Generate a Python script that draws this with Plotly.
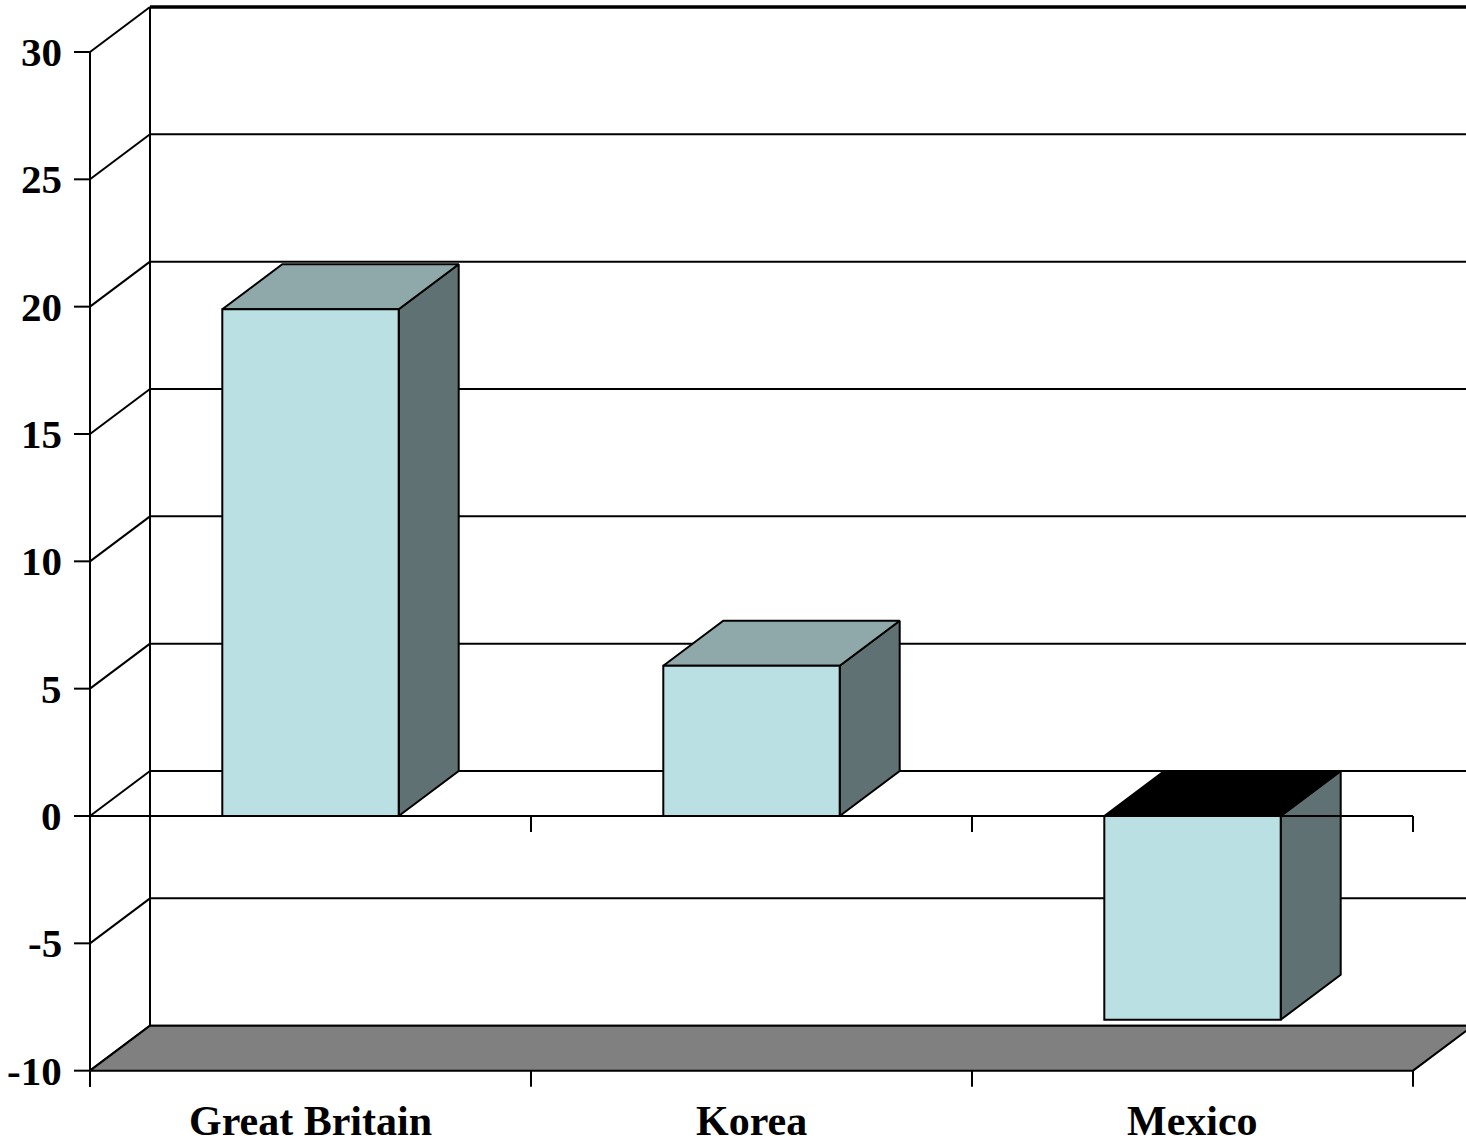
import plotly.graph_objects as go

# Data
categories = ["Great Britain", "Korea", "Mexico"]
values = [19.9, 5.9, -8.0]
tick_values = [-10, -5, 0, 5, 10, 15, 20, 25, 30]
tick_labels = ["-10", "-5", "0", "5", "10", "15", "20", "25", "30"]

# Appearance
FRONT = "#BAE0E3"
TOP = "#8FA9AB"
SIDE = "#5F7172"
NEG_TOP = "#000000"
FLOOR = "#808080"
FONT = "Liberation Serif"

W, H = 1466, 1142
X0_PX, CAT_PX = 90.0, 441.0        # left axis position, width of one category
Y0_PX, UNIT_PX = 816.0, 25.467     # zero-line position, pixels per unit
DEPTH_X = 60.0 / CAT_PX            # 3-D depth offset in axis units
DEPTH_Y = 45.0 / UNIT_PX
TICK_X = 16.0 / CAT_PX
TICK_Y = 16.0 / UNIT_PX
BAR_L, BAR_R = 0.3, 0.7            # bar span within its category

y_min, y_max = min(tick_values), max(tick_values)
n = len(categories)

x_range = [-X0_PX / CAT_PX, (W - X0_PX) / CAT_PX]
y_range = [-(H - Y0_PX) / UNIT_PX, Y0_PX / UNIT_PX]

fig = go.Figure()


def lines(segments, width=2, color="black"):
    xs, ys = [], []
    for (xa, ya), (xb, yb) in segments:
        xs += [xa, xb, None]
        ys += [ya, yb, None]
    fig.add_trace(go.Scatter(x=xs, y=ys, mode="lines",
                             line=dict(color=color, width=width),
                             hoverinfo="skip", showlegend=False))


def poly(pts, fill, width=2):
    xs = [p[0] for p in pts] + [pts[0][0]]
    ys = [p[1] for p in pts] + [pts[0][1]]
    fig.add_trace(go.Scatter(x=xs, y=ys, mode="lines", fill="toself",
                             fillcolor=fill,
                             line=dict(color="black", width=width),
                             hoverinfo="skip", showlegend=False))


far_right = x_range[1] + 1

# Back wall gridlines
lines([((DEPTH_X, v + DEPTH_Y), (far_right, v + DEPTH_Y))
       for v in tick_values if v != y_max])
lines([((DEPTH_X, y_max + DEPTH_Y), (far_right, y_max + DEPTH_Y))], width=3.5)

# Side wall: back vertical edge and diagonal gridlines
lines([((DEPTH_X, y_min + DEPTH_Y), (DEPTH_X, y_max + DEPTH_Y))])
lines([((0, v), (DEPTH_X, v + DEPTH_Y)) for v in tick_values])

# Floor
poly([(0, y_min), (n, y_min), (n + DEPTH_X, y_min + DEPTH_Y),
      (DEPTH_X, y_min + DEPTH_Y)], FLOOR)

# Bars
for i, v in enumerate(values):
    x0, x1 = i + BAR_L, i + BAR_R
    # side face
    poly([(x1, 0), (x1 + DEPTH_X, DEPTH_Y), (x1 + DEPTH_X, v + DEPTH_Y),
          (x1, v)], SIDE)
    # top face (for a negative bar the visible cap sits at zero)
    cap = max(v, 0)
    poly([(x0, cap), (x1, cap), (x1 + DEPTH_X, cap + DEPTH_Y),
          (x0 + DEPTH_X, cap + DEPTH_Y)], TOP if v >= 0 else NEG_TOP)
    # front face
    poly([(x0, 0), (x1, 0), (x1, v), (x0, v)], FRONT)

# Front zero line with category ticks
lines([((0, 0), (n, 0))])
lines([((k, 0), (k, -TICK_Y)) for k in range(1, n + 1)])

# Front floor edge ticks
lines([((k, y_min), (k, y_min - TICK_Y)) for k in range(0, n + 1)])

# Value axis with ticks
lines([((0, y_max), (0, y_min - TICK_Y))])
lines([((-TICK_X, v), (0, v)) for v in tick_values])

annotations = []
for v, t in zip(tick_values, tick_labels):
    annotations.append(dict(
        x=-TICK_X - 10.0 / CAT_PX, y=v, xref="x", yref="y",
        text=f"<b>{t}</b>", showarrow=False, xanchor="right", yanchor="middle",
        font=dict(family=FONT, size=41, color="black")))
for i, c in enumerate(categories):
    annotations.append(dict(
        x=i + 0.5, y=y_min - 50.0 / UNIT_PX, xref="x", yref="y",
        text=f"<b>{c}</b>", showarrow=False, xanchor="center", yanchor="middle",
        font=dict(family=FONT, size=42, color="black")))

fig.update_layout(
    width=W, height=H,
    margin=dict(l=0, r=0, t=0, b=0),
    paper_bgcolor="white", plot_bgcolor="white",
    xaxis=dict(range=x_range, visible=False, fixedrange=True),
    yaxis=dict(range=y_range, visible=False, fixedrange=True),
    annotations=annotations,
    showlegend=False,
)

fig.write_html("out.html", config={"displayModeBar": False})
